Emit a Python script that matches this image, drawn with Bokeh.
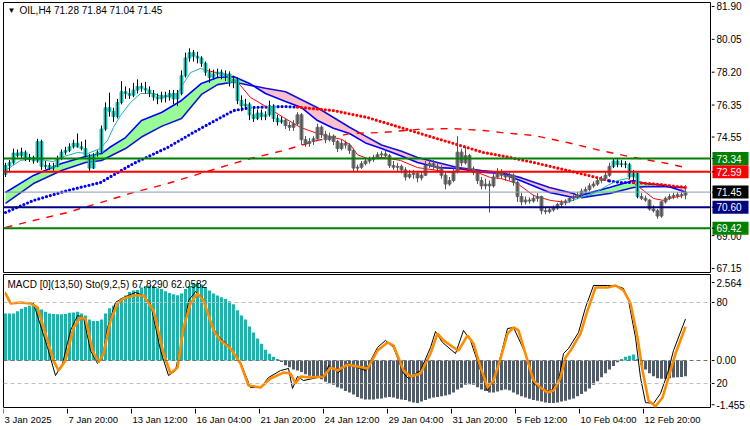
import numpy as np
from bokeh.plotting import figure
from bokeh.layouts import column, row
from bokeh.models import Range1d, Label, Span
from bokeh.core.properties import value
from bokeh.embed import file_html
from bokeh.resources import INLINE

FONT = "Liberation Sans"

# ---------------- price data (H4 bars, index 0..170) ----------------
opens = [72.45,72.95,73.10,73.65,73.50,73.70,73.30,73.40,73.20,74.30,
72.90,72.95,72.80,72.90,73.35,73.70,73.80,74.00,74.20,74.00,
73.90,73.50,72.80,73.55,73.70,75.00,76.20,76.00,75.70,76.50,
77.10,77.00,76.90,77.20,77.40,77.30,77.20,77.00,76.80,76.70,
76.90,76.80,77.00,76.70,77.00,78.00,79.00,79.30,79.10,79.00,
78.70,78.20,77.90,78.10,78.20,78.00,78.10,77.60,77.80,76.60,
76.30,76.40,75.80,75.60,75.90,75.70,75.80,76.30,75.60,75.40,
75.50,75.20,75.10,75.30,75.80,74.40,74.20,74.30,74.45,75.10,
74.70,74.40,74.60,74.30,73.90,74.20,74.10,73.80,72.80,72.85,
73.05,73.20,73.30,73.40,73.55,73.60,73.50,72.95,72.85,72.90,
72.70,72.30,72.45,72.50,72.25,72.40,72.95,73.05,72.90,72.80,
72.40,71.90,72.10,72.60,73.70,73.10,73.50,72.75,72.55,72.10,
71.80,71.90,71.80,72.30,72.60,72.40,72.30,72.40,72.00,71.20,
70.90,71.00,70.95,71.10,71.20,70.40,70.35,70.45,70.55,70.75,
70.85,70.95,71.10,71.15,71.30,71.50,71.60,71.80,71.90,72.10,
72.20,72.40,72.90,73.20,73.00,73.05,73.00,72.30,72.50,71.20,
71.10,71.00,70.50,70.40,70.10,70.90,71.10,71.20,71.25,71.30,
71.28]
highs = [73.10,73.25,73.90,73.85,73.95,73.80,73.60,73.50,74.45,74.40,
73.20,73.10,73.10,73.50,73.85,74.00,74.20,74.40,74.75,74.30,
74.40,73.60,73.65,73.80,75.20,76.50,77.05,76.20,76.70,77.70,
77.40,77.30,77.60,77.80,77.60,77.65,77.40,77.20,77.00,77.10,
77.10,77.20,77.20,77.20,78.30,79.30,79.55,79.45,79.35,79.10,
78.80,78.40,78.35,78.40,78.35,78.30,78.25,78.00,77.90,76.90,
76.70,76.50,76.20,76.10,76.10,76.00,76.60,76.40,75.80,75.70,
75.60,75.40,75.50,75.95,75.90,74.60,74.50,74.60,75.30,75.20,
74.90,74.80,74.70,74.40,74.40,74.35,74.20,73.90,73.00,73.20,
73.35,73.45,73.55,73.70,73.75,73.80,73.60,73.20,73.10,73.00,
72.85,72.70,72.70,72.60,72.60,73.20,73.30,73.25,73.10,72.95,
72.60,72.30,72.80,74.60,73.90,74.05,73.60,72.90,72.70,72.30,
72.20,72.10,72.50,72.80,72.75,72.60,72.60,72.50,72.10,71.40,
71.20,71.15,71.30,71.40,71.25,70.60,70.55,70.70,70.85,71.00,
71.05,71.20,71.30,71.45,71.65,71.75,71.95,72.05,72.25,72.35,
72.60,73.10,73.35,73.30,73.25,73.20,73.10,72.70,72.55,71.40,
71.25,71.05,70.70,70.50,70.95,71.20,71.35,71.40,71.45,71.60,
71.84]
lows = [72.30,72.60,73.00,73.40,73.35,73.20,73.15,73.05,73.10,72.70,
72.75,72.70,72.65,72.85,73.25,73.55,73.70,73.90,73.95,73.80,
73.40,72.65,72.75,73.45,73.65,74.90,75.70,75.40,75.60,76.40,
76.70,76.70,76.80,77.00,77.10,77.00,76.80,76.60,76.40,76.50,
76.50,76.60,76.40,76.30,76.90,77.90,78.80,78.80,78.70,78.50,
78.00,77.60,77.80,77.90,77.80,77.70,77.40,77.30,76.40,76.00,
76.10,75.50,75.40,75.50,75.50,75.50,75.70,75.40,75.20,75.30,
75.00,74.90,74.90,75.20,74.10,74.00,74.00,74.10,74.40,74.50,
74.20,74.30,74.10,73.70,73.80,73.90,73.60,72.60,72.60,72.75,
72.95,73.05,73.15,73.30,73.40,73.40,72.80,72.70,72.60,72.50,
72.10,72.20,72.20,72.00,72.10,72.35,72.80,72.70,72.60,72.20,
71.60,71.80,72.00,72.50,72.90,73.00,72.60,72.40,71.90,71.60,
71.60,70.30,71.70,72.20,72.20,72.10,72.10,71.80,70.90,70.70,
70.75,70.80,70.85,70.90,70.20,70.20,70.25,70.35,70.45,70.60,
70.70,70.85,70.95,71.05,71.20,71.35,71.50,71.70,71.80,71.95,
72.10,72.30,72.80,72.85,72.85,72.80,72.20,72.10,71.10,71.00,
70.90,70.40,70.30,69.95,70.00,70.80,71.00,71.05,71.10,71.10,
71.04]
closes = [72.95,73.10,73.65,73.50,73.70,73.30,73.40,73.20,74.30,72.90,
72.95,72.80,72.90,73.35,73.70,73.80,74.00,74.20,74.00,73.90,
73.50,72.80,73.55,73.70,75.00,76.20,76.00,75.70,76.50,77.10,
77.00,76.90,77.20,77.40,77.30,77.20,77.00,76.80,76.70,76.90,
76.80,77.00,76.70,77.00,78.00,79.00,79.30,79.10,79.00,78.70,
78.20,77.90,78.10,78.20,78.00,78.10,77.60,77.80,76.60,76.30,
76.40,75.80,75.60,75.90,75.70,75.80,76.30,75.60,75.40,75.50,
75.20,75.10,75.30,75.80,74.40,74.20,74.30,74.45,75.10,74.70,
74.40,74.60,74.30,73.90,74.20,74.10,73.80,72.80,72.85,73.05,
73.20,73.30,73.40,73.55,73.60,73.50,72.95,72.85,72.90,72.70,
72.30,72.45,72.50,72.25,72.40,72.95,73.05,72.90,72.80,72.40,
71.90,72.10,72.60,73.70,73.10,73.50,72.75,72.55,72.10,71.80,
71.90,71.80,72.30,72.60,72.40,72.30,72.40,72.00,71.20,70.90,
71.00,70.95,71.10,71.20,70.40,70.35,70.45,70.55,70.75,70.85,
70.95,71.10,71.15,71.30,71.50,71.60,71.80,71.90,72.10,72.20,
72.40,72.90,73.20,73.00,73.05,73.00,72.30,72.50,71.20,71.10,
71.00,70.50,70.40,70.10,70.90,71.10,71.20,71.25,71.30,71.28,
71.45]
# bar ranges painted in the "bullish" colouring (teal body, black wick)
teal_ranges = [(0, 69), (152, 158)]

# ---------------- indicator lines (bar index, price) ----------------
band_x = [0,7,14,20,24,26,30,34,39,44,49,53,57,61,65,70,74,78,82,86,90,94,99,103,108,113,119,124,129,136,142,144,151,157,160,165,170]
band_fast = [71.43,72.39,73.06,73.45,73.62,73.96,74.52,75.48,75.93,76.61,77.57,77.90,77.96,77.57,77.00,76.55,76.21,75.48,75.05,74.75,74.22,73.90,73.48,73.12,72.83,72.78,72.57,72.50,72.08,71.43,71.15,71.28,71.71,72.10,71.93,71.82,71.45]
band_slow = [70.81,71.93,72.67,73.12,73.23,73.45,73.90,74.55,75.15,75.60,76.95,77.50,77.65,77.47,77.30,77.10,76.65,76.20,75.65,75.10,74.60,74.10,73.75,73.40,73.12,72.83,72.67,72.55,72.25,71.71,71.37,71.14,71.37,71.71,71.76,71.75,71.71]

thin_x = [0,3.75,7.5,10,12,13.75,18,20.5,23.75,25.5,27,28.75,31.25,33.75,37,39.5,43,44.5,46.25,48.75,50.25,
          53.75,56.25,58.75,61.25,65.5,69.5,73.75,78,82,84,86.25,88,90.5,94.5,98.75,103,108,111.25,114.5,118,121.25,123.75,128,132,136.25,140.5,
          143,147,150.5,153,155.5,159.5,162,164.5,167,169.5]
thin_y = [72.67,73.23,73.34,73.23,73.17,73.40,73.68,73.62,73.91,74.36,75.09,75.76,76.49,77.00,77.00,76.78,77.00,77.57,78.18,78.41,78.30,
          78.13,78.02,77.45,76.78,76.21,75.65,75.09,74.75,74.52,74.42,74.10,73.55,73.34,73.40,73.23,72.83,72.67,72.55,72.78,72.55,72.27,72.22,71.93,71.26,70.98,70.86,
          71.09,71.37,71.82,72.10,72.22,71.54,71.09,70.98,71.15,71.26]
thin_segments = [(0, 20, "#20b2aa"), (20, 46, "#ff0000"), (46, 51, "#20b2aa"), (51, 56, "#ff0000")]

ma_x = [0,7,15.5,23.75,32,40.5,47,48.75,57,61.25,69.5,73,82,90.5,98.75,107,112,119.5,123.75,132,140.5,148.75,151,153.75,157,163.75,170]
ma_y = [70.30,70.98,71.54,71.99,73.06,73.96,74.81,75.03,76.04,76.21,76.27,76.23,76.04,75.65,75.09,74.52,74.19,73.68,73.51,73.12,72.67,72.22,72.08,71.99,71.99,71.88,71.71]
ma_segments = [(0, 11, "#0000ff"), (11, 22, "#ff0000"), (22, 24, "#0000ff"), (24, 26, "#ff0000")]

lma_x = [0,7,15.5,23.75,32,40.5,48.75,57,61.25,69.5,78,86.25,94.5,103,111.25,119.5,123.75,132,140.5,148.75,157,165.5,170]
lma_y = [69.46,69.85,70.30,70.86,71.43,71.93,72.50,73.06,73.34,73.79,74.36,74.75,74.81,74.98,75.03,74.92,74.81,74.64,74.24,73.79,73.40,73.06,72.83]

levels = [73.34, 72.59, 71.45, 70.60, 69.42]
level_line_colors = ["#008000", "#ff0000", "#8a9aaa", "#000080", "#008000"]
level_box_colors = ["#008000", "#ff0000", "#000000", "#000080", "#008000"]
level_widths = [2, 2, 1, 2, 2]
price_ticks = [81.90, 80.05, 78.20, 76.35, 74.55, 69.00, 67.15]

# ---------------- lower panel ----------------
macd_hist = [1.55,1.55,1.55,1.62,1.70,1.76,1.80,1.80,1.76,1.68,
1.60,1.55,1.53,1.52,1.52,1.53,1.57,1.58,1.60,1.55,
1.48,1.35,1.30,1.30,1.35,1.55,1.72,1.80,1.90,2.05,
2.14,2.25,2.30,2.32,2.40,2.45,2.47,2.45,2.38,2.35,
2.28,2.22,2.18,2.15,2.20,2.35,2.45,2.52,2.55,2.50,
2.42,2.30,2.20,2.14,2.08,2.02,1.95,1.85,1.65,1.48,
1.35,1.12,0.92,0.72,0.55,0.35,0.22,0.12,0.05,-0.05,
-0.16,-0.22,-0.30,-0.33,-0.38,-0.45,-0.50,-0.52,-0.55,-0.62,
-0.70,-0.75,-0.80,-0.88,-0.92,-1.00,-1.05,-1.12,-1.20,-1.25,
-1.28,-1.28,-1.28,-1.26,-1.25,-1.22,-1.20,-1.22,-1.26,-1.28,
-1.30,-1.35,-1.38,-1.40,-1.35,-1.30,-1.25,-1.22,-1.20,-1.18,
-1.15,-1.12,-1.05,-0.95,-0.90,-0.80,-0.78,-0.80,-0.88,-0.95,
-1.00,-1.05,-1.05,-1.02,-0.98,-0.95,-0.98,-1.05,-1.12,-1.18,
-1.22,-1.26,-1.30,-1.32,-1.35,-1.38,-1.40,-1.40,-1.38,-1.35,
-1.32,-1.28,-1.25,-1.18,-1.10,-1.02,-0.92,-0.80,-0.68,-0.55,
-0.42,-0.30,-0.18,-0.06,0.05,0.12,0.16,0.20,0.05,-0.15,
-0.30,-0.42,-0.52,-0.58,-0.60,-0.60,-0.58,-0.56,-0.55,-0.54,
-0.52]

sto_k_x = [0,1.25,7,10.5,12.5,14.25,16.25,18,19.5,21.25,23,24.25,25.5,27.5,29.5,32.5,34.5,36.25,38.75,40.75,42.5,44.25,45.75,47.5,49.25,51.75,53.75,56.25,58.75,61.25,63.75,65.75,68.75,70.75,71.75,73,74.5,78,80,80.75,83.25,85.5,88,90,93,95,97,99.5,100.75,103.75,106.25,107.5,109.25,112.5,114.5,116.25,118.75,120.5,122,123.75,125.5,127,130,132,134.5,136.25,138.25,139.5,140.75,143.25,145,147,150.5,152.5,154.5,155.75,157.5,158.75,160,162,163.75,165.5,167,170]
sto_k_y = [87.4,80,79.3,46.7,25.9,34.8,59.3,70.4,68.9,44.4,34.8,39.3,61.5,80,83.7,87.4,85.2,79.3,44.4,25.9,29.6,54.1,81.5,88.1,83.7,61.5,53.3,46.7,35.6,17,17,24.4,29.6,31.1,16.3,25.2,22.2,24.4,26.7,33.3,28.1,34.8,31.9,29.6,46.7,51.9,46.7,27.4,23.7,29.6,46.7,58.5,50.4,42.2,59.3,51.9,29.6,14.8,22.2,40,60.7,61.5,42.2,20,14.8,14.1,22.2,42.2,45.9,57.8,76.3,92.6,92.6,92.6,90.4,81.5,54.1,24.4,5.9,5.2,12.6,27.4,44.4,67.83]
sto_d_x = [0,1.25,3.75,6.25,8,9.5,12,13.25,15,17,18.75,20,21.75,23.25,24.5,26.25,28,29.5,32,34.5,37,39.5,41.25,43,44.5,46.25,48,49.5,52,53.75,56.25,58.75,60.75,63.75,66.25,69.5,71.25,72.5,73.75,76.25,79.5,81.25,83,85.5,88,90.5,93,95.5,97,99.5,101.25,103.75,106.25,108,109.5,112,113.25,115.5,117,118.75,120.5,122,123.75,125.5,127,128.25,130.5,132,133.75,135.5,137,138.75,140,141.25,143.75,145.5,147.5,150.5,152.5,154.5,156.25,158,159.25,160.75,162.5,164.25,165.75,167.5,170]
sto_d_y = [86.7,79.3,80,79.3,76.3,61.5,37,29.6,37,61.5,68.9,68,44.4,35.6,42.2,66.7,79.3,83,85.2,85.2,74,42.2,27.4,31.9,61.5,79.3,86.7,81.5,59.3,51.9,45.9,34.8,18.5,17,23.7,28.1,27.4,20,25.2,24.4,25.2,31.9,29.6,34,32.6,31.1,44.4,50.4,48.1,29.6,25.2,27.4,42.2,57,51.9,46.7,44.4,55.6,49.6,31.9,17,22.2,38.5,57,61.5,59.3,37,22.2,17,13.3,14.8,24.4,39.3,44.4,57,74,91.1,91.1,92.6,88.9,79.3,54,29.6,7.4,3,9.6,24.4,42.2,62.06]

macd_ticks = [2.564, 0.0, -1.455]
macd_tick_labels = ["2.564", "0.00", "-1.455"]
sto_ticks = [80, 20]
sto_tick_labels = ["80", "20"]

time_labels = ["3 Jan 2025", "7 Jan 20:00", "13 Jan 12:00", "16 Jan 04:00", "21 Jan 20:00",
               "24 Jan 12:00", "29 Jan 04:00", "31 Jan 20:00", "5 Feb 12:00", "10 Feb 04:00", "12 Feb 20:00"]
time_label_bars = [0, 16, 32, 48, 64, 80, 96, 112, 128, 144, 160]

title_text = "OIL,H4  71.28 71.84 71.04 71.45"
sub_text = "MACD [0](13,50)  Sto(9,2,5) 67.8290 62.0582"

# ---------------- styling constants ----------------
TEAL = "#20b2aa"
GRAY = "#6b6b6b"
CRIMSON = "#dc143c"
HIST_NEG = "#525c68"
ORANGE = "#ff8c00"

N = len(closes)
idx = np.arange(N)
xr = Range1d(-0.5, 176.5)

P_LO, P_HI = 66.923, 82.125        # main frame: 270 px high
PPU1 = 270.0 / (P_HI - P_LO)
M_LO, M_HI = -1.579, 2.829         # lower frame: 134 px high
PPU2 = 134.0 / (M_HI - M_LO)
S_LO, S_HI = 1.48, 100.74


def base_fig(**kw):
    f = figure(output_backend="svg", toolbar_location=None,
               x_axis_location=None, y_axis_location=None, **kw)
    f.grid.visible = False
    f.background_fill_color = "white"
    f.border_fill_color = "white"
    return f


# ======================= main price panel =======================
p1 = base_fig(width=711, height=273, x_range=xr, y_range=Range1d(P_LO, P_HI),
              min_border_left=3, min_border_right=0, min_border_top=2, min_border_bottom=1)
p1.outline_line_color = "black"

bx, bf, bs = [], [], []
for k in range(len(band_x)):
    if k > 0:
        d0 = band_fast[k - 1] - band_slow[k - 1]
        d1 = band_fast[k] - band_slow[k]
        if d0 * d1 < 0:
            t = d0 / (d0 - d1)
            xc = band_x[k - 1] + t * (band_x[k] - band_x[k - 1])
            yc = band_fast[k - 1] + t * (band_fast[k] - band_fast[k - 1])
            bx.append(xc); bf.append(yc); bs.append(yc)
    bx.append(band_x[k]); bf.append(band_fast[k]); bs.append(band_slow[k])
bf = np.array(bf); bs = np.array(bs)
hi = np.maximum(bf, bs)
p1.varea(x=bx, y1=bs, y2=hi, fill_color="#98fb98", fill_alpha=1)
p1.varea(x=bx, y1=bf, y2=hi, fill_color="#ffc0cb", fill_alpha=1)
p1.line(bx, bs, line_color="#1010e0", line_width=1.6)
p1.line(bx, bf, line_color="#0000ff", line_width=1.6)

p1.line(lma_x, lma_y, line_color="#ff0000", line_width=1.4, line_dash="7 7")

for a, b, c in ma_segments:
    p1.line(ma_x[a:b + 1], ma_y[a:b + 1], line_color=c, line_width=3.2,
            line_dash="0 4", line_cap="round")

for a, b, c in thin_segments:
    p1.line(thin_x[a:b + 1], thin_y[a:b + 1], line_color=c, line_width=1)

body_colors, wick_colors = [], []
for i in range(N):
    t = any(a <= i <= b for a, b in teal_ranges)
    body_colors.append(TEAL if t else GRAY)
    wick_colors.append("#000000" if t else CRIMSON)
btop = np.maximum(opens, closes)
bbot = np.minimum(opens, closes)
p1.vbar(x=idx, top=btop, bottom=bbot, width=0.72, fill_color=body_colors,
        line_color=body_colors, line_width=1)
p1.segment(x0=idx, y0=lows, x1=idx, y1=highs, line_color=wick_colors, line_width=1)

for lv, c, w in zip(levels, level_line_colors, level_widths):
    p1.add_layout(Span(location=lv, dimension="width", line_color=c, line_width=w))

p1.add_layout(Label(x=4, y=262, x_units="screen", y_units="screen", text="\u25bc",
                    text_font=FONT, text_font_size="8px", text_color="black",
                    text_baseline="middle"))
p1.add_layout(Label(x=16, y=262, x_units="screen", y_units="screen", text=title_text,
                    text_font=FONT, text_font_size="10px", text_color="black",
                    text_baseline="middle"))

# ---- right price scale strip (same price scale, 39 px wide) ----
r1 = base_fig(width=39, height=273, x_range=Range1d(0, 39),
              y_range=Range1d(P_LO - 1 / PPU1, P_HI + 2 / PPU1),
              min_border_left=0, min_border_right=0, min_border_top=0, min_border_bottom=0)
r1.outline_line_color = None
r1.segment(x0=[0] * len(price_ticks), x1=[3] * len(price_ticks), y0=price_ticks, y1=price_ticks,
           line_color="black", line_width=1)
r1.text(x=[5] * len(price_ticks), y=price_ticks, text=[f"{t:.2f}" for t in price_ticks],
        text_font=value(FONT), text_font_size="10px", text_color="black",
        text_align="left", text_baseline="middle")
half = 6.5 / PPU1
r1.quad(left=[1] * len(levels), right=[37] * len(levels),
        top=[lv + half for lv in levels], bottom=[lv - half for lv in levels],
        fill_color=level_box_colors, line_color=None)
r1.segment(x0=[0] * len(levels), x1=[3] * len(levels), y0=levels, y1=levels,
           line_color="black", line_width=1)
r1.text(x=[5] * len(levels), y=levels, text=[f"{lv:.2f}" for lv in levels],
        text_font=value(FONT), text_font_size="10px", text_color="white",
        text_align="left", text_baseline="middle")

# ======================= MACD / Stochastic panel =======================
p2 = base_fig(width=711, height=135, x_range=xr, y_range=Range1d(M_LO, M_HI),
              min_border_left=3, min_border_right=0, min_border_top=1, min_border_bottom=0)
p2.extra_y_ranges = {"sto": Range1d(S_LO, S_HI)}
p2.outline_line_color = "black"

hcol = [TEAL if v >= 0 else HIST_NEG for v in macd_hist]
p2.vbar(x=idx, top=macd_hist, bottom=0, width=0.75, fill_color=hcol, line_color=None)

for lv in sto_ticks:
    p2.add_layout(Span(location=lv, dimension="width", y_range_name="sto",
                       line_color="#c0c0c0", line_dash="4 3", line_width=1))
p2.add_layout(Span(location=0, dimension="width", line_color="#707070",
                   line_dash="4 3", line_width=1))

p2.line(sto_k_x, sto_k_y, y_range_name="sto", line_color="black", line_width=1)
p2.line(sto_d_x, sto_d_y, y_range_name="sto", line_color=ORANGE, line_width=2.6)

p2.add_layout(Label(x=4, y=124, x_units="screen", y_units="screen", text=sub_text,
                    text_font=FONT, text_font_size="10px", text_color="black",
                    text_baseline="middle"))

# ---- right scale strip for the lower panel ----
r2 = base_fig(width=39, height=157, x_range=Range1d(0, 39),
              y_range=Range1d(M_LO - 22 / PPU2, M_HI + 1 / PPU2),
              min_border_left=0, min_border_right=0, min_border_top=0, min_border_bottom=0)
r2.outline_line_color = None
r2.extra_y_ranges = {"sto": Range1d(S_LO - 22 * (S_HI - S_LO) / 134.0,
                                    S_HI + 1 * (S_HI - S_LO) / 134.0)}
r2.segment(x0=[0] * 3, x1=[3] * 3, y0=macd_ticks, y1=macd_ticks, line_color="black")
r2.text(x=[5] * 3, y=macd_ticks, text=macd_tick_labels, text_font=value(FONT),
        text_font_size="10px", text_color="black", text_align="left", text_baseline="middle")
r2.segment(x0=[0] * 2, x1=[3] * 2, y0=sto_ticks, y1=sto_ticks, line_color="black",
           y_range_name="sto")
r2.text(x=[5] * 2, y=sto_ticks, text=sto_tick_labels, text_font=value(FONT), y_range_name="sto",
        text_font_size="10px", text_color="black", text_align="left", text_baseline="middle")

# ---- time scale strip under the lower panel ----
p3 = base_fig(width=711, height=22, x_range=xr, y_range=Range1d(0, 22),
              min_border_left=3, min_border_right=0, min_border_top=0, min_border_bottom=0)
p3.outline_line_color = None
tick_pos = [b - 0.5 for b in time_label_bars]
p3.segment(x0=tick_pos, x1=tick_pos, y0=[22] * len(tick_pos), y1=[17] * len(tick_pos),
           line_color="black", line_width=1)
p3.text(x=tick_pos, y=[11] * len(tick_pos), text=time_labels, x_offset=1,
        text_font=value(FONT), text_font_size="9.5px", text_color="black",
        text_align="left", text_baseline="middle")

layout = row(column(p1, p2, p3, spacing=0), column(r1, r2, spacing=0), spacing=0)
open("out.html", "w").write(file_html(layout, INLINE))
